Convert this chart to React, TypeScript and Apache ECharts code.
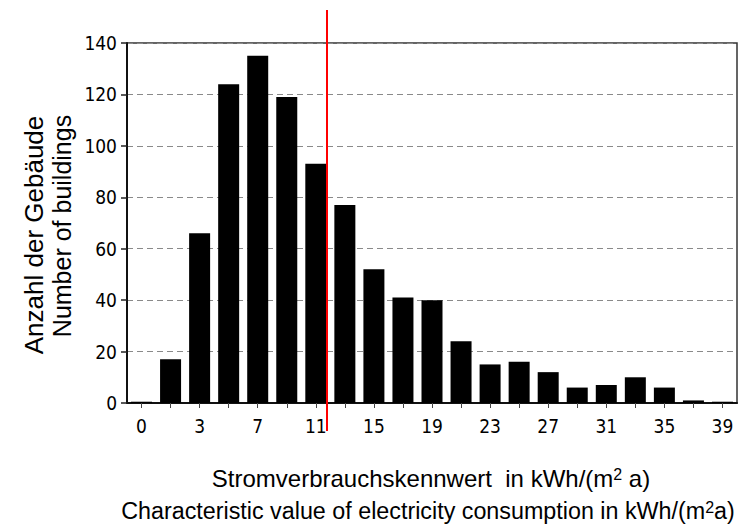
import React, { useEffect, useRef } from "react";
import * as echarts from "echarts";

// Bin labels along the x axis (kWh/(m² a))
const categories = [
  "0", "1", "3", "5", "7", "9", "11", "13", "15", "17", "19",
  "21", "23", "25", "27", "29", "31", "33", "35", "37", "39",
];
// Number of buildings per bin
const buildings = [
  0.5, 17, 66, 124, 135, 119, 93, 77, 52, 41, 40,
  24, 15, 16, 12, 6, 7, 10, 6, 1, 0.5,
];
const yMin = 0;
const yMax = 140;
const yStep = 20;

const yTitle1 = "Anzahl der Gebäude";
const yTitle2 = "Number of buildings";
const xTitle1 = "Stromverbrauchskennwert  in kWh/(m{sup|2} a)";
const xTitle2 = "Characteristic value of electricity consumption in kWh/(m{sup|2}a)";

const NARROW = '"Liberation Sans Narrow", "DejaVu Sans Condensed", "Arial Narrow", sans-serif';
const SANS = '"Liberation Sans", Arial, Helvetica, sans-serif';

export default function App() {
  const ref = useRef<HTMLDivElement>(null);

  useEffect(() => {
    if (!ref.current) return;
    const chart = echarts.init(ref.current, null, { renderer: "svg" });
    chart.setOption({
      animation: false,
      backgroundColor: "#ffffff",
      grid: {
        left: 127,
        right: 3,
        top: 43,
        bottom: 122,
        containLabel: false,
        show: true,
        borderColor: "#333",
        borderWidth: 1.5,
        backgroundColor: "transparent",
      },
      xAxis: {
        type: "category",
        data: categories,
        boundaryGap: true,
        axisLine: { show: true, lineStyle: { color: "#111", width: 2 } },
        axisTick: {
          show: true,
          alignWithLabel: true,
          interval: 0,
          length: 5,
          lineStyle: { color: "#444", width: 1 },
        },
        axisLabel: {
          interval: 1,
          margin: 13,
          fontFamily: NARROW,
          fontSize: 19,
          color: "#000",
        },
        splitLine: { show: false },
      },
      yAxis: {
        type: "value",
        min: yMin,
        max: yMax,
        interval: yStep,
        axisLine: { show: true, lineStyle: { color: "#111", width: 2 } },
        axisTick: { show: true, length: 6, lineStyle: { color: "#222", width: 1.5 } },
        axisLabel: {
          margin: 10,
          fontFamily: NARROW,
          fontSize: 19,
          color: "#000",
        },
        splitLine: {
          show: true,
          lineStyle: { color: "#8a8a8a", width: 1.2, type: [6, 4] },
        },
      },
      series: [
        {
          type: "bar",
          data: buildings,
          barWidth: 21,
          itemStyle: { color: "#000" },
          silent: true,
        },
      ],
      graphic: [
        {
          type: "text",
          x: 34,
          y: 235,
          rotation: Math.PI / 2,
          style: {
            text: yTitle1,
            fontFamily: SANS,
            fontSize: 26,
            fill: "#000",
            textAlign: "center",
            textVerticalAlign: "middle",
          },
        },
        {
          type: "text",
          x: 62,
          y: 226,
          rotation: Math.PI / 2,
          style: {
            text: yTitle2,
            fontFamily: SANS,
            fontSize: 25,
            fill: "#000",
            textAlign: "center",
            textVerticalAlign: "middle",
          },
        },
        {
          type: "text",
          x: 431,
          y: 478,
          style: {
            text: xTitle1,
            fontFamily: SANS,
            fontSize: 24,
            fill: "#000",
            textAlign: "center",
            textVerticalAlign: "middle",
            rich: {
              sup: { fontFamily: SANS, fontSize: 16, verticalAlign: "top", fill: "#000" },
            },
          },
        },
        {
          type: "text",
          x: 428,
          y: 511,
          style: {
            text: xTitle2,
            fontFamily: SANS,
            fontSize: 23.3,
            fill: "#000",
            textAlign: "center",
            textVerticalAlign: "middle",
            rich: {
              sup: { fontFamily: SANS, fontSize: 16, verticalAlign: "top", fill: "#000" },
            },
          },
        },
        {
          type: "line",
          shape: { x1: 327, y1: 10, x2: 327, y2: 431 },
          style: { stroke: "#ff0000", lineWidth: 2 },
          z: 100,
        },
      ],
    });
    return () => chart.dispose();
  }, []);

  return (
    <div
      ref={ref}
      style={{ position: "fixed", left: 0, top: 0, width: 740, height: 525, background: "#fff" }}
    />
  );
}
